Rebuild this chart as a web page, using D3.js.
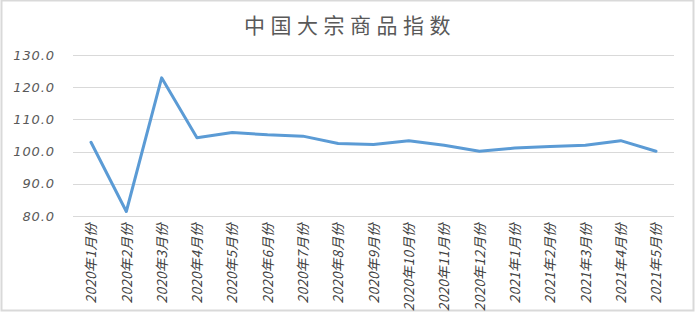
<!DOCTYPE html>
<html>
<head>
<meta charset="utf-8">
<script src="https://d3js.org/d3.v7.min.js"></script>
<style>
  body { margin: 0; background: #fff; }
  .title { font: 21px "Noto Sans CJK SC", sans-serif; fill: #595959; letter-spacing: 5.5px; }
  .y-axis text { font: italic 13px "DejaVu Sans", sans-serif; fill: #595959; letter-spacing: 0.9px; }
  .x-axis text { font: italic 13.5px "Noto Sans CJK SC", sans-serif; fill: #404040; letter-spacing: 0.3px; }
  .grid line { stroke: #d9d9d9; stroke-width: 1px; }
  .line { fill: none; stroke: #5b9bd5; stroke-width: 3px; stroke-linejoin: round; stroke-linecap: round; }
</style>
</head>
<body>
<div id="chart"></div>
<script>
// categories and values
const months = ["2020年1月份", "2020年2月份", "2020年3月份", "2020年4月份", "2020年5月份",
  "2020年6月份", "2020年7月份", "2020年8月份", "2020年9月份", "2020年10月份",
  "2020年11月份", "2020年12月份", "2021年1月份", "2021年2月份", "2021年3月份",
  "2021年4月份", "2021年5月份"];
const values = [102.9, 81.4, 122.9, 104.3, 105.9, 105.2, 104.8, 102.5, 102.2, 103.4,
  102.0, 100.1, 101.1, 101.6, 102.0, 103.4, 100.1];
const yTicks = [80, 90, 100, 110, 120, 130];

const width = 696, height = 314;
const plot = { left: 73, right: 674, top: 55, bottom: 216 };

const svg = d3.select('#chart').append('svg')
  .attr('width', width)
  .attr('height', height);

// chart border
svg.append('rect')
  .attr('x', 1.5).attr('y', 0.5)
  .attr('width', 692).attr('height', 310)
  .attr('fill', '#fff')
  .attr('stroke', '#d9d9d9')
  .attr('stroke-width', 2);

svg.append('text')
  .attr('class', 'title')
  .attr('x', 350)
  .attr('y', 33)
  .attr('text-anchor', 'middle')
  .text('中国大宗商品指数');

const x = d3.scalePoint()
  .domain(months)
  .range([91, 656]);

const y = d3.scaleLinear()
  .domain([80, 130])
  .range([plot.bottom, plot.top]);

// gridlines
svg.append('g')
  .attr('class', 'grid')
  .selectAll('line')
  .data(yTicks)
  .enter().append('line')
  .attr('x1', plot.left)
  .attr('x2', plot.right)
  .attr('y1', d => Math.round(y(d)) + 0.5)
  .attr('y2', d => Math.round(y(d)) + 0.5);

// y axis labels
const yAxis = svg.append('g')
  .attr('class', 'y-axis')
  .attr('transform', 'translate(55,0)')
  .call(d3.axisLeft(y).tickValues(yTicks).tickFormat(d3.format('.1f')).tickSize(0).tickPadding(0));
yAxis.select('.domain').remove();

// x axis labels
const xAxis = svg.append('g')
  .attr('class', 'x-axis')
  .attr('transform', `translate(0,${plot.bottom})`)
  .call(d3.axisBottom(x).tickSize(0));
xAxis.select('.domain').remove();
xAxis.selectAll('text')
  .attr('transform', 'rotate(-90)')
  .attr('x', -7)
  .attr('y', 0)
  .attr('dy', '0.35em')
  .style('text-anchor', 'end');

// line
const line = d3.line()
  .x((d, i) => x(months[i]))
  .y(d => y(d));

svg.append('path')
  .datum(values)
  .attr('class', 'line')
  .attr('d', line);
</script>
</body>
</html>
